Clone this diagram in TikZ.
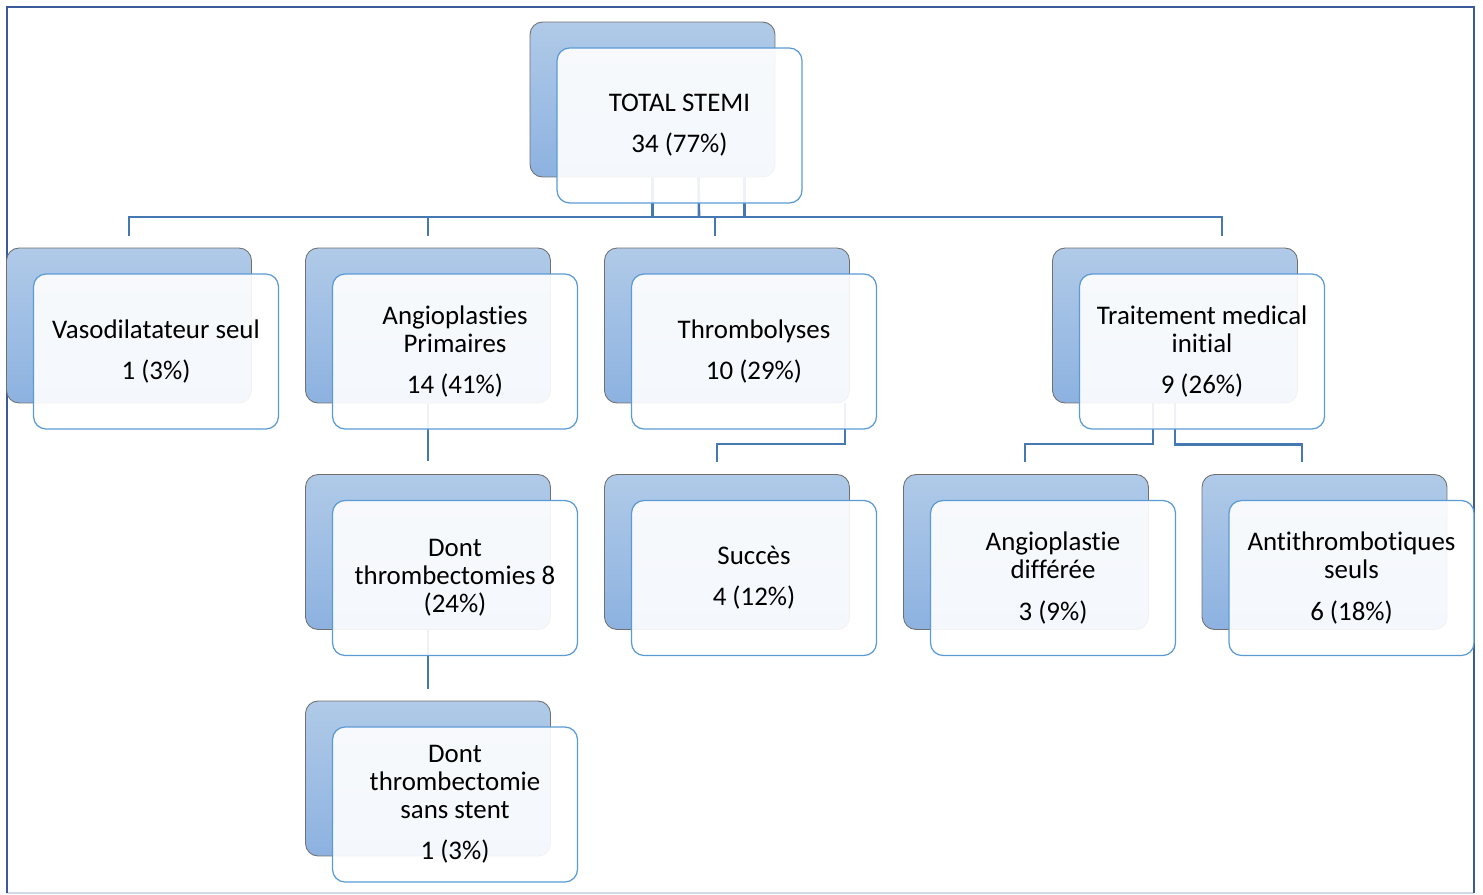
\documentclass[tikz,border=0pt]{standalone}
\usepackage{fontspec}
\setmainfont{Carlito}[Ligatures=NoCommon]
\usetikzlibrary{positioning}

\definecolor{boxblue}{RGB}{176,202,232}
\definecolor{boxdeep}{RGB}{141,178,224}
\definecolor{edgegrey}{RGB}{112,112,112}
\definecolor{frontline}{RGB}{91,155,213}
\definecolor{linkblue}{RGB}{70,121,177}
\definecolor{frameblue}{RGB}{58,90,155}
\definecolor{framelight}{RGB}{210,218,234}

\begin{document}
\begin{tikzpicture}[x=0.02cm, y=-0.02cm,
            back/.style={rectangle, rounded corners=0.25cm, draw=edgegrey, line width=0.5pt,
                top color=boxblue, bottom color=boxdeep,
                minimum width=4.9cm, minimum height=3.1cm, inner sep=0pt},
            front/.style={rectangle, rounded corners=0.25cm, draw=frontline, line width=0.7pt,
                fill=white, fill opacity=0.91, text opacity=1,
                minimum width=4.9cm, minimum height=3.1cm, inner sep=2pt,
                align=center, font=\fontsize{15.3}{16}\selectfont},
            link/.style={draw=linkblue, line width=1.5pt}]

            \useasboundingbox (0,0) rectangle (1483,895);

            % frame
            \draw[framelight, line width=1pt] (7,893) -- (1474,893);
            \draw[frameblue, line width=0.055cm] (7,893) -- (7,7) -- (1474,7) -- (1474,893);

            % back boxes
            \node[back] (top-b) at (652.5,99.5) {};
            \node[back] (vaso-b) at (129,325.5) {};
            \node[back] (angio-b) at (428,325.5) {};
            \node[back] (thrombo-b) at (727,325.5) {};
            \node[back] (trait-b) at (1175,325.5) {};
            \node[back] (dont-b) at (428,552) {};
            \node[back] (succes-b) at (727,552) {};
            \node[back] (diff-b) at (1026,552) {};
            \node[back] (anti-b) at (1324.5,552) {};
            \node[back] (sans-b) at (428,778.5) {};

            % connectors
            \coordinate (hub) at (699,217);
            \coordinate (vaso-in) at (129,236);
            \coordinate (angio-in) at (428,236);
            \coordinate (thrombo-in) at (715,236);
            \coordinate (trait-in) at (1222,236);
            \draw[link] (top-b.south) -- (top-b.south |- hub);
            \draw[link] ([shift={(46,0)}]top-b.south) -- (hub);
            \draw[link] ([shift={(92,0)}]top-b.south) -- ++(0,40);
            \draw[link] (vaso-in) |- (hub) -| (trait-in);
            \draw[link] (angio-in) -- (angio-in |- hub);
            \draw[link] (thrombo-in) -- (thrombo-in |- hub);

            \draw[link] (angio-b.south) -- ([shift={(0,-13)}]dont-b.north);
            \draw[link] (dont-b.south) -- ([shift={(0,-12)}]sans-b.north);

            \coordinate (thrombo-out) at (845,403);
            \coordinate (succes-in) at (717,462);
            \draw[link] (thrombo-out) -- ++(0,41) -| (succes-in);

            \coordinate (trait-out1) at (1153,403);
            \coordinate (diff-in) at (1025,462);
            \coordinate (anti-in) at (1302,462);
            \draw[link] (trait-out1) -- ++(0,41) -| (diff-in);
            \draw[link] (trait-b.south) -- ++(0,41) -| (anti-in);

            % front boxes
            \node[front] (top) at (679.5,125.5) {TOTAL STEMI\\[0.26cm]34 (77\%)};
            \node[front] (vaso) at (156,351.5) {Vasodilatateur seul\\[0.26cm]1 (3\%)};
            \node[front] (angio) at (455,351.5) {Angioplasties\\Primaires\\[0.26cm]14 (41\%)};
            \node[front] (thrombo) at (754,351.5) {Thrombolyses\\[0.26cm]10 (29\%)};
            \node[front] (trait) at (1202,351.5) {Traitement medical\\initial\\[0.26cm]9 (26\%)};
            \node[front] (dont) at (455,578) {Dont\\thrombectomies 8\\(24\%)};
            \node[front] (succes) at (754,578) {Succès\\[0.26cm]4 (12\%)};
            \node[front] (diff) at (1053,578) {Angioplastie\\différée\\[0.26cm]3 (9\%)};
            \node[front] (anti) at (1351.5,578) {Antithrombotiques\\seuls\\[0.26cm]6 (18\%)};
            \node[front] (sans) at (455,804.5) {Dont\\thrombectomie\\sans stent\\[0.26cm]1 (3\%)};
        \end{tikzpicture}
\end{document}
